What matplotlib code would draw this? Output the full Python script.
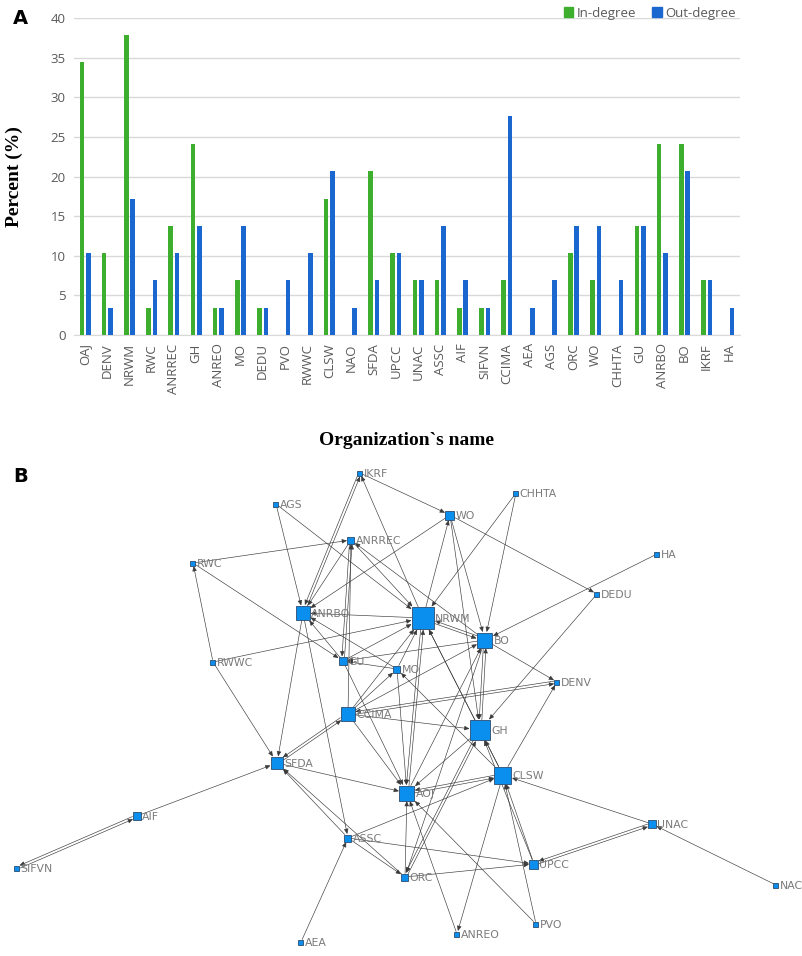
import matplotlib.pyplot as plt
import numpy as np
from matplotlib.patches import Rectangle, Patch, FancyArrowPatch

# panel A data
orgs = ['OAJ', 'DENV', 'NRWM', 'RWC', 'ANRREC', 'GH', 'ANREO', 'MO', 'DEDU', 'PVO',
        'RWWC', 'CLSW', 'NAO', 'SFDA', 'UPCC', 'UNAC', 'ASSC', 'AIF', 'SIFVN', 'CCIMA',
        'AEA', 'AGS', 'ORC', 'WO', 'CHHTA', 'GU', 'ANRBO', 'BO', 'IKRF', 'HA']
in_degree = [34.5, 10.3, 37.9, 3.4, 13.8, 24.1, 3.4, 6.9, 3.4, 0,
             0, 17.2, 0, 20.7, 10.3, 6.9, 6.9, 3.4, 3.4, 6.9,
             0, 0, 10.3, 6.9, 0, 13.8, 24.1, 24.1, 6.9, 0]
out_degree = [10.3, 3.4, 17.2, 6.9, 10.3, 13.8, 3.4, 13.8, 3.4, 6.9,
              10.3, 20.7, 3.4, 6.9, 10.3, 6.9, 13.8, 6.9, 3.4, 27.6,
              3.4, 6.9, 13.8, 13.8, 6.9, 13.8, 10.3, 20.7, 6.9, 3.4]

# panel B data (layout positions)
node_names = ['IKRF', 'AGS', 'CHHTA', 'WO', 'ANRREC', 'HA', 'RWC', 'DEDU', 'ANRBO', 'NRWM',
              'BO', 'RWWC', 'GU', 'MO', 'DENV', 'CCIMA', 'GH', 'SFDA', 'CLSW', 'AOJ',
              'AIF', 'UNAC', 'ASSC', 'UPCC', 'ORC', 'SIFVN', 'NAC', 'PVO', 'ANREO', 'AEA']
node_x = [360, 276, 516, 450, 351, 657, 193, 597, 303, 423,
          485, 213, 343, 397, 557, 348, 480, 277, 503, 407,
          137, 652, 348, 534, 405, 17, 776, 536, 457, 301]
node_y = [473, 504, 493, 515, 540, 554, 563, 594, 613, 618,
          640, 662, 661, 669, 682, 714, 730, 763, 775, 793,
          816, 824, 838, 864, 877, 868, 885, 924, 934, 942]
node_size = [5, 5, 5, 9, 7, 5, 5, 5, 14, 22,
             15, 5, 8, 7, 5, 14, 20, 12, 17, 15,
             8, 8, 7, 9, 7, 5, 5, 5, 5, 5]
edges = [
    ('SIFVN', 'AIF'), ('AIF', 'SIFVN'), ('AIF', 'SFDA'), ('NAC', 'UNAC'),
    ('UNAC', 'CLSW'), ('UNAC', 'UPCC'), ('UPCC', 'UNAC'), ('AEA', 'ASSC'),
    ('HA', 'BO'), ('WO', 'DEDU'), ('DEDU', 'GH'), ('CHHTA', 'BO'),
    ('CHHTA', 'NRWM'), ('IKRF', 'WO'), ('IKRF', 'ANRBO'), ('NRWM', 'IKRF'),
    ('ANRBO', 'IKRF'), ('AGS', 'ANRBO'), ('AGS', 'NRWM'), ('RWC', 'ANRREC'),
    ('RWC', 'GU'), ('RWWC', 'RWC'), ('RWWC', 'NRWM'), ('RWWC', 'SFDA'),
    ('PVO', 'AOJ'), ('PVO', 'CLSW'), ('ANREO', 'AOJ'), ('CLSW', 'ANREO'),
    ('WO', 'BO'), ('WO', 'ANRBO'), ('NRWM', 'WO'), ('WO', 'GH'),
    ('CCIMA', 'GH'), ('CCIMA', 'DENV'), ('CCIMA', 'AOJ'), ('CCIMA', 'MO'),
    ('CCIMA', 'NRWM'), ('CCIMA', 'BO'), ('CCIMA', 'ANRREC'), ('CCIMA', 'SFDA'),
    ('SFDA', 'CCIMA'), ('SFDA', 'AOJ'), ('ANRBO', 'SFDA'), ('ANRBO', 'ASSC'),
    ('ASSC', 'SFDA'), ('ASSC', 'CLSW'), ('ASSC', 'UPCC'), ('ASSC', 'ORC'),
    ('ORC', 'SFDA'), ('ORC', 'AOJ'), ('ORC', 'UPCC'), ('ORC', 'GH'),
    ('UPCC', 'CLSW'), ('UPCC', 'GH'), ('CLSW', 'GH'), ('CLSW', 'DENV'),
    ('CLSW', 'MO'), ('CLSW', 'NRWM'), ('CLSW', 'AOJ'), ('GH', 'AOJ'),
    ('GH', 'NRWM'), ('GH', 'BO'), ('GH', 'ORC'), ('AOJ', 'CLSW'),
    ('AOJ', 'NRWM'), ('AOJ', 'BO'), ('NRWM', 'AOJ'), ('NRWM', 'ANRBO'),
    ('NRWM', 'BO'), ('BO', 'NRWM'), ('BO', 'DENV'), ('BO', 'GH'),
    ('BO', 'ORC'), ('BO', 'GU'), ('BO', 'ANRREC'), ('DENV', 'CCIMA'),
    ('ANRREC', 'NRWM'), ('ANRREC', 'ANRBO'), ('ANRREC', 'GU'), ('GU', 'NRWM'),
    ('GU', 'AOJ'), ('GU', 'ANRBO'), ('GU', 'ANRREC'), ('MO', 'AOJ'),
    ('MO', 'NRWM'), ('MO', 'ANRBO'), ('MO', 'GU'),
]

W, H = 803, 956
fig = plt.figure(figsize=(W / 100, H / 100), dpi=100)

green = '#3DAE2E'
blue = '#1A68CF'

# ---- panel A ----
ax = fig.add_axes([74 / W, 1 - 335 / H, (740 - 74) / W, (335 - 18) / H])
idx = np.arange(len(orgs))
ax.bar(idx - 0.145, in_degree, 0.2, color=green, zorder=3)
ax.bar(idx + 0.145, out_degree, 0.2, color=blue, zorder=3)
ax.set_xlim(-0.5, len(orgs) - 0.5)
ax.set_ylim(0, 40)
ax.set_yticks(range(0, 41, 5))
ax.yaxis.grid(True, color='#D9D9D9', lw=1)
ax.set_axisbelow(True)
for s in ['top', 'right', 'left']:
    ax.spines[s].set_visible(False)
ax.spines['bottom'].set_color('#D9D9D9')
ax.set_xticks(idx)
ax.set_xticklabels(orgs, rotation=90, family='Open Sans')
for lab in ax.get_yticklabels():
    lab.set_family('Open Sans')
ax.tick_params(length=0, colors='#595959', labelsize=9.5, pad=6)
ax.set_ylabel('Percent (%)', family='Liberation Serif', fontweight='bold',
              fontsize=14, color='black', labelpad=20)
ax.set_xlabel('Organization`s name', family='Liberation Serif', fontweight='bold',
              fontsize=14, color='black', labelpad=28)

handles = [Patch(color=green, label='In-degree'), Patch(color=blue, label='Out-degree')]
fig.legend(handles=handles, loc='center right', bbox_to_anchor=(748 / W, 1 - 13 / H),
           ncol=2, frameon=False, handlelength=0.7, handleheight=0.7,
           handletextpad=0.3, columnspacing=1.2,
           prop={'family': 'Open Sans', 'size': 9.5}, labelcolor='#595959')

fig.text(13 / W, 1 - 18 / H, 'A', fontsize=14, fontweight='bold', va='center', ha='left')
fig.text(13 / W, 1 - 477 / H, 'B', fontsize=14, fontweight='bold', va='center', ha='left')

# ---- panel B ----
ax2 = fig.add_axes([0, 0, 1, (H - 460) / H])
ax2.set_xlim(0, W)
ax2.set_ylim(H, 460)
ax2.axis('off')

pos = {n: (x, y) for n, x, y in zip(node_names, node_x, node_y)}
half = {n: s / 2 for n, s in zip(node_names, node_size)}
edge_set = set(edges)

for s, d in edges:
    p1 = np.array(pos[s], float)
    p2 = np.array(pos[d], float)
    v = p2 - p1
    u = v / np.hypot(*v)
    if (d, s) in edge_set:
        perp = np.array([-u[1], u[0]]) * 1.3
        p1 = p1 + perp
        p2 = p2 + perp
    a = p1 + u * half[s] / max(abs(u[0]), abs(u[1]))
    b = p2 - u * (half[d] + 0.5) / max(abs(u[0]), abs(u[1]))
    arr = FancyArrowPatch(a, b, arrowstyle='-|>,head_length=0.5,head_width=0.22',
                          mutation_scale=6, lw=0.45, color='#3a3a3a',
                          shrinkA=0, shrinkB=0, zorder=2)
    ax2.add_patch(arr)

for n, x, y, sz in zip(node_names, node_x, node_y, node_size):
    ax2.add_patch(Rectangle((x - sz / 2, y - sz / 2), sz, sz, facecolor='#0B8FEF',
                            edgecolor='#2B4C6E', lw=0.6, zorder=3))
    ax2.text(x + sz / 2 + 1, y + 1, n, fontsize=7.8, color='#7a7a7a',
             va='center', ha='left', zorder=4)

fig.savefig('out.png', dpi=100)
